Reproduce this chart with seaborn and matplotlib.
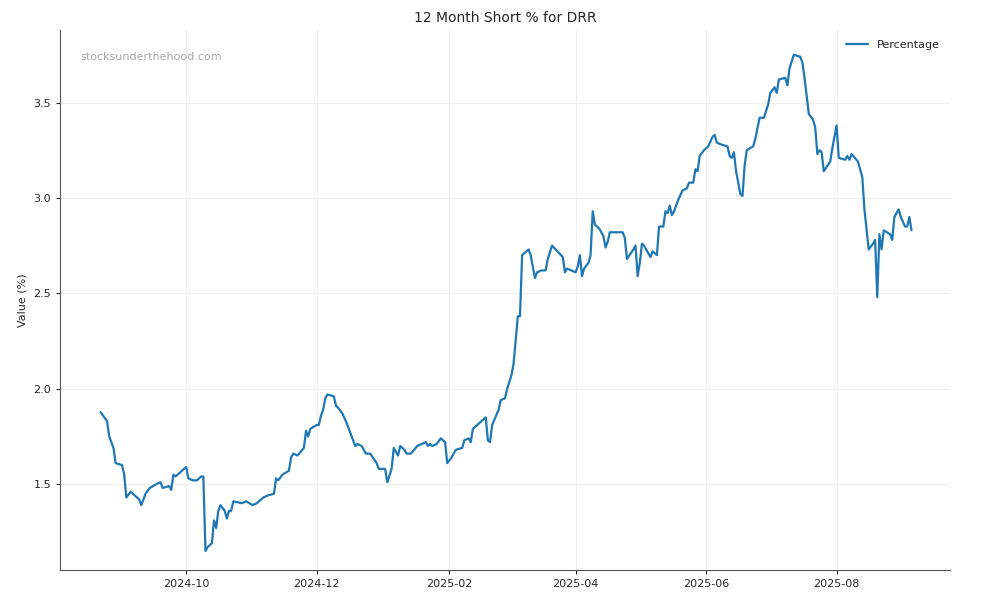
import pandas as pd
import matplotlib
matplotlib.use("Agg")
import matplotlib.pyplot as plt
import matplotlib.dates as mdates
import seaborn as sns

start_date = "2024-08-22"
day_offsets = [0,3,4,6,7,10,11,12,14,16,18,19,21,23,26,28,29,32,33,34,35,39,40,41,43,45,47,48,49,50,52,53,54,55,56,58,59,60,61,62,66,68,71,73,75,76,78,81,82,83,85,88,89,90,92,95,96,97,98,101,102,103,104,105,106,109,110,111,113,115,117,119,120,122,124,126,129,130,133,134,136,137,139,140,142,143,145,148,150,152,153,154,155,157,159,161,162,164,166,169,170,172,173,174,177,180,181,182,183,186,187,189,190,192,193,195,196,197,200,201,203,204,206,208,209,211,216,217,218,220,222,223,224,225,226,228,229,230,231,233,235,236,237,238,244,245,246,249,250,251,252,253,254,257,258,260,261,263,264,265,266,267,268,270,272,274,275,277,278,279,280,282,284,286,287,288,290,293,294,295,296,297,299,300,301,302,305,306,308,310,312,313,315,316,317,320,321,322,324,327,328,329,331,333,334,335,336,337,338,341,342,344,345,348,349,350,351,354,356,357,359,361,362,363,364,365,366,369,370,371,373,374,376,377,378,379]
percentages = [1.877,1.83,1.75,1.69,1.61,1.60,1.55,1.43,1.46,1.44,1.42,1.39,1.45,1.48,1.50,1.51,1.48,1.49,1.47,1.55,1.54,1.58,1.59,1.53,1.52,1.52,1.54,1.54,1.15,1.17,1.19,1.31,1.27,1.36,1.39,1.36,1.32,1.36,1.36,1.41,1.40,1.41,1.39,1.40,1.42,1.43,1.44,1.45,1.53,1.52,1.55,1.57,1.64,1.66,1.65,1.69,1.78,1.75,1.79,1.81,1.81,1.86,1.89,1.95,1.97,1.96,1.91,1.90,1.87,1.82,1.76,1.70,1.71,1.70,1.66,1.66,1.61,1.58,1.58,1.51,1.58,1.69,1.65,1.70,1.68,1.66,1.66,1.70,1.71,1.72,1.70,1.71,1.70,1.71,1.74,1.72,1.61,1.64,1.68,1.69,1.73,1.74,1.72,1.79,1.82,1.85,1.73,1.72,1.81,1.89,1.94,1.95,2.00,2.07,2.13,2.38,2.38,2.70,2.73,2.70,2.58,2.61,2.62,2.62,2.68,2.75,2.69,2.61,2.63,2.62,2.61,2.64,2.70,2.59,2.63,2.66,2.70,2.93,2.86,2.84,2.80,2.74,2.77,2.82,2.82,2.79,2.68,2.73,2.75,2.59,2.66,2.76,2.75,2.69,2.72,2.70,2.85,2.85,2.93,2.92,2.96,2.91,2.93,2.99,3.04,3.05,3.08,3.08,3.15,3.14,3.22,3.25,3.27,3.32,3.33,3.29,3.28,3.27,3.22,3.21,3.24,3.14,3.02,3.01,3.17,3.25,3.27,3.31,3.42,3.42,3.49,3.55,3.58,3.55,3.62,3.63,3.59,3.68,3.75,3.74,3.71,3.63,3.44,3.41,3.37,3.23,3.25,3.24,3.14,3.19,3.26,3.38,3.21,3.20,3.22,3.20,3.23,3.19,3.11,2.94,2.73,2.76,2.78,2.48,2.81,2.73,2.83,2.81,2.78,2.90,2.94,2.90,2.85,2.85,2.90,2.83]

df = pd.DataFrame({
    "Date": pd.Timestamp(start_date) + pd.to_timedelta(day_offsets, unit="D"),
    "Percentage": percentages,
})

sns.set_style("whitegrid")
fig, ax = plt.subplots(figsize=(10, 6), dpi=100)
sns.lineplot(data=df, x="Date", y="Percentage", ax=ax, color="#1f77b4", linewidth=1.6, label="Percentage")
ax.set_title("12 Month Short % for DRR", fontsize=10)
ax.set_xlabel("")
ax.set_ylabel("Value (%)", fontsize=8)
ax.xaxis.set_major_locator(mdates.MonthLocator(bymonth=[2, 4, 6, 8, 10, 12]))
ax.xaxis.set_major_formatter(mdates.DateFormatter("%Y-%m"))
ax.tick_params(labelsize=8, length=3, left=True, bottom=True)
ax.grid(True, color="#f0f0f0", linewidth=0.8)
for s in ["top", "right"]:
    ax.spines[s].set_visible(False)
for s in ["left", "bottom"]:
    ax.spines[s].set_color("#555555")
    ax.spines[s].set_linewidth(0.8)
ax.set_ylim(1.05, 3.88)
ax.set_xlim(pd.Timestamp("2024-08-03"), pd.Timestamp("2025-09-23"))
ax.legend(loc="upper right", fontsize=8, frameon=False)
ax.text(0.023, 0.945, "stocksunderthehood.com", transform=ax.transAxes, fontsize=8, color="#aaaaaa")
fig.subplots_adjust(left=0.06, right=0.95, top=0.95, bottom=0.05)
fig.savefig("out.png", dpi=100)
